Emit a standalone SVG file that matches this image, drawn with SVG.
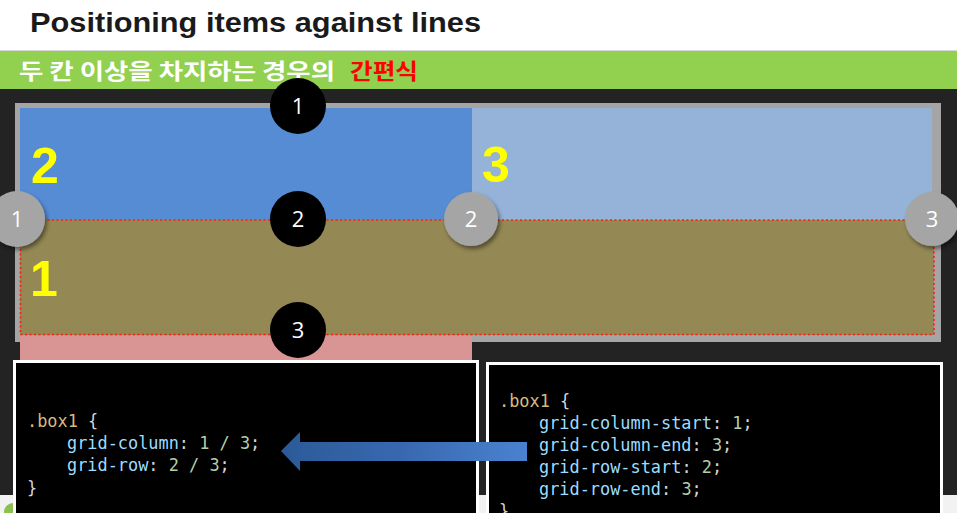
<svg xmlns="http://www.w3.org/2000/svg" width="957" height="513" viewBox="0 0 957 513">
<style>
.title{font-family:"Liberation Sans","DejaVu Sans",sans-serif;font-weight:bold;font-size:28px;fill:#1a1a1a}
.kr{font-family:"Noto Sans CJK KR","Noto Sans",sans-serif;font-weight:bold;font-size:22px}
.big{font-family:"Liberation Sans","DejaVu Sans",sans-serif;font-weight:bold;font-size:50px;fill:#ffff00}
.num{font-family:"Open Sans","DejaVu Sans",sans-serif;font-size:22px;fill:#ffffff;text-anchor:middle}
.code{font-family:"DejaVu Sans Mono","Liberation Mono",monospace;font-size:16.9px;fill:#d4d4d4;white-space:pre}
.sel{fill:#d7ba7d}.prop{fill:#9cdcfe}.val{fill:#b5cea8}
.gc{fill:#a5a5a5}
.bc{fill:#000000}
.box{fill:#000000;stroke:#ffffff;stroke-width:3}
</style>
<defs>
<filter id="sh" x="-30%" y="-30%" width="170%" height="170%">
<feDropShadow dx="2" dy="3" stdDeviation="2" flood-color="#000" flood-opacity="0.45"/>
</filter>
<linearGradient id="ag" x1="0" y1="0" x2="1" y2="0">
<stop offset="0" stop-color="#2c5a98"/>
<stop offset="0.5" stop-color="#3869b0"/>
<stop offset="1" stop-color="#4a82d0"/>
</linearGradient>
</defs>

<!-- page background -->
<rect x="0" y="0" width="957" height="513" fill="#f2f2f2"/>
<rect x="0" y="0" width="957" height="50" fill="#ffffff"/>
<line x1="0" y1="50.5" x2="957" y2="50.5" stroke="#d8d8d8" stroke-width="1"/>
<rect x="0" y="89" width="957" height="406" fill="#232323"/>
<circle cx="13" cy="512" r="9" fill="#8cc152"/>

<g id="title">
<text class="title" x="30" y="32" textLength="451" lengthAdjust="spacingAndGlyphs">Positioning items against lines</text>
</g>

<g id="subtitle">
<rect x="0" y="51" width="957" height="38" fill="#92d050"/>
<text class="kr" x="19" y="79" fill="#ffffff" textLength="316" lengthAdjust="spacingAndGlyphs">두 칸 이상을 차지하는 경우의</text>
<text class="kr" x="350" y="79" fill="#ff0000" textLength="68" lengthAdjust="spacingAndGlyphs">간편식</text>
</g>

<g id="grid-container">
<rect x="15" y="103" width="926" height="239" fill="#a5a5a5"/>
</g>
<g id="item-2">
<rect x="20" y="108" width="452" height="112" fill="#558cd4"/>
<text class="big" x="31" y="183">2</text>
</g>
<g id="item-3">
<rect x="472" y="108" width="460" height="112" fill="#95b2d8"/>
<text class="big" x="482" y="182">3</text>
</g>
<g id="item-1">
<rect x="20" y="220" width="914" height="115" fill="#948855"/>
<rect x="20.5" y="220" width="913.5" height="114.5" fill="none" stroke="#ff1a1a" stroke-width="1.6" stroke-dasharray="2 2.5"/>
<text class="big" x="30" y="296">1</text>
</g>
<g id="implicit-row">
<rect x="20" y="336" width="452" height="30" fill="#d99594"/>
</g>

<g id="row-line-1"><circle class="bc" cx="298" cy="106" r="28"/><text class="num" x="298" y="114">1</text></g>
<g id="row-line-2"><circle class="bc" cx="298" cy="219" r="28"/><text class="num" x="298" y="227">2</text></g>
<g id="row-line-3"><circle class="bc" cx="298" cy="330" r="28"/><text class="num" x="298" y="338">3</text></g>

<g id="col-line-1"><circle class="gc" cx="17" cy="219" r="28" filter="url(#sh)"/><text class="num" x="17" y="227">1</text></g>
<g id="col-line-2"><circle class="gc" cx="471" cy="219" r="27" filter="url(#sh)"/><text class="num" x="471" y="227">2</text></g>
<g id="col-line-3"><circle class="gc" cx="932" cy="219" r="27" filter="url(#sh)"/><text class="num" x="932" y="227">3</text></g>

<g id="code-shorthand">
<rect class="box" x="14.5" y="361.5" width="463" height="160"/>
<text class="code" x="27" y="427"><tspan class="sel">.box1</tspan> {</text>
<text class="code" x="67" y="449"><tspan class="prop">grid-column</tspan>: <tspan class="val">1 / 3</tspan>;</text>
<text class="code" x="67" y="471"><tspan class="prop">grid-row</tspan>: <tspan class="val">2 / 3</tspan>;</text>
<text class="code" x="27" y="494">}</text>
</g>

<g id="code-longhand">
<rect class="box" x="487.5" y="363.5" width="454" height="160"/>
<text class="code" x="499" y="407"><tspan class="sel">.box1</tspan> {</text>
<text class="code" x="539" y="429"><tspan class="prop">grid-column-start</tspan>: <tspan class="val">1</tspan>;</text>
<text class="code" x="539" y="451"><tspan class="prop">grid-column-end</tspan>: <tspan class="val">3</tspan>;</text>
<text class="code" x="539" y="473"><tspan class="prop">grid-row-start</tspan>: <tspan class="val">2</tspan>;</text>
<text class="code" x="539" y="495"><tspan class="prop">grid-row-end</tspan>: <tspan class="val">3</tspan>;</text>
<text class="code" x="499" y="517">}</text>
</g>

<g id="connectors">
<path d="M281,451 L300,432 L300,442 L527,442 L527,461 L300,461 L300,471 Z" fill="url(#ag)"/>
</g>
</svg>
